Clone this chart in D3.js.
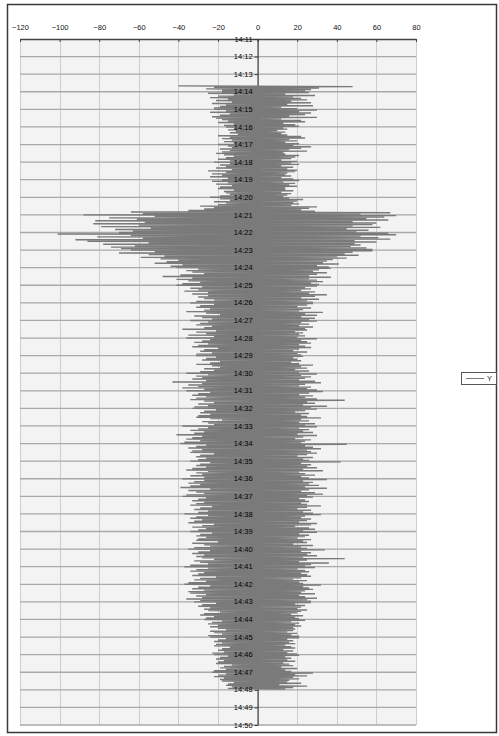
<!DOCTYPE html>
<html>
<head>
<meta charset="utf-8">
<script src="https://cdn.jsdelivr.net/npm/d3@7"></script>
<style>
  html, body { margin: 0; padding: 0; background: #ffffff; }
  svg { display: block; }
  text { font-family: "Liberation Sans", Arial, sans-serif; }
</style>
</head>
<body>
<svg id="chart" width="499" height="736"></svg>
<script>
// Amplitude axis (horizontal) tick values
const xTicks = [-120, -100, -80, -60, -40, -20, 0, 20, 40, 60, 80];

// Time axis (vertical) tick labels, one per minute
const timeTicks = ["14:11","14:12","14:13","14:14","14:15","14:16","14:17","14:18","14:19","14:20",
  "14:21","14:22","14:23","14:24","14:25","14:26","14:27","14:28","14:29","14:30",
  "14:31","14:32","14:33","14:34","14:35","14:36","14:37","14:38","14:39","14:40",
  "14:41","14:42","14:43","14:44","14:45","14:46","14:47","14:48","14:49","14:50"];

// Recording start and sample spacing of the Y series
const seriesName = "Y";
const startTime = "14:13:40";
const sampleSeconds = 2.5;

// Y readings, one per sample (one row per minute)
const yValues = [
  -40, 48, -22, 31, -26, 27, -18, 24,
  -18, 26, -25, 14, -12, 29, -20, 18, -24, 22, -15, 25, -21, 17, -13, 27, -23, 15, -16, 28, -19, 12, -22, 20,
  -22, 30, -16, 21, -24, 27, -14, 24, -19, 16, -23, 30, -21, 12, -18, 22, -15, 24, -20, 13, -12, 19, -17, 21,
  -16, 13, -12, 15, -15, 10, -11, 14, -14, 12, -10, 15, -20, 22, -14, 24, -18, 16, -13, 20, -17, 14, -12, 21,
  -20, 18, -15, 27, -13, 22, -19, 16, -14, 25, -18, 13, -21, 14, -17, 21, -12, 19, -16, 17, -20, 12, -14, 20,
  -22, 17, -14, 21, -19, 12, -16, 18, -21, 15, -13, 20, -25, 19, -16, 15, -23, 14, -18, 17, -24, 12, -15, 18,
  -18, 21, -23, 13, -15, 19, -21, 16, -13, 20, -19, 14, -20, 14, -12, 18, -17, 12, -16, 17, -14, 15, -19, 13,
  -24, 16, -19, 23, -14, 20, -22, 18, -16, 21, -20, 17, -29, 30, -22, 26, -27, 22, -35, 29, -64, 67, -58, 52,
  -88, 70, -52, 64, -75, 55, -61, 66, -82, 48, -57, 60, -83, 58, -60, 48, -79, 62, -54, 45, -72, 56, -63, 50,
  -70, 66, -101, 70, -64, 52, -81, 61, -58, 67, -92, 49, -86, 60, -55, 49, -78, 52, -62, 47, -74, 55, -69, 58,
  -64, 58, -52, 48, -70, 44, -55, 51, -47, 40, -59, 45, -49, 38, -40, 35, -46, 33, -52, 41, -38, 30, -44, 36,
  -41, 37, -30, 31, -36, 28, -33, 35, -27, 30, -39, 26, -48, 37, -33, 26, -41, 30, -35, 33, -29, 27, -38, 31,
  -41, 30, -28, 24, -34, 27, -30, 22, -37, 29, -25, 26, -33, 35, -25, 29, -30, 22, -27, 31, -22, 25, -31, 28,
  -34, 28, -22, 25, -29, 20, -31, 27, -24, 23, -27, 21, -36, 33, -26, 24, -19, 30, -32, 22, -28, 29, -23, 26,
  -34, 30, -25, 22, -29, 26, -31, 21, -23, 28, -27, 24, -38, 25, -21, 19, -31, 23, -26, 21, -35, 24, -22, 20,
  -36, 30, -24, 22, -28, 25, -32, 27, -25, 21, -30, 24, -33, 27, -20, 21, -27, 18, -29, 25, -23, 20, -31, 22,
  -31, 23, -21, 18, -26, 20, -28, 22, -19, 17, -24, 21, -31, 28, -23, 22, -19, 25, -27, 19, -22, 26, -29, 21,
  -36, 30, -25, 22, -31, 27, -28, 24, -33, 21, -26, 29, -43, 32, -28, 24, -35, 21, -30, 27, -38, 25, -27, 30,
  -36, 33, -24, 26, -30, 21, -33, 28, -26, 24, -31, 30, -34, 44, -27, 25, -22, 29, -30, 23, -25, 35, -32, 27,
  -33, 30, -21, 24, -27, 19, -29, 26, -24, 22, -30, 25, -31, 32, -24, 22, -18, 26, -28, 21, -25, 29, -22, 24,
  -38, 30, -25, 21, -30, 26, -34, 23, -27, 28, -32, 20, -41, 30, -28, 23, -33, 19, -36, 27, -29, 24, -37, 22,
  -39, 45, -26, 24, -31, 28, -35, 32, -28, 25, -33, 27, -34, 30, -22, 25, -29, 20, -31, 28, -26, 23, -30, 26,
  -34, 42, -24, 22, -29, 27, -31, 25, -26, 30, -33, 23, -36, 33, -25, 21, -31, 24, -28, 29, -34, 22, -27, 26,
  -38, 35, -27, 23, -32, 28, -35, 26, -29, 31, -34, 24, -39, 35, -24, 26, -35, 22, -31, 29, -27, 33, -36, 25,
  -38, 28, -26, 21, -30, 24, -33, 26, -27, 22, -31, 25, -34, 32, -23, 25, -29, 20, -32, 27, -25, 23, -30, 28,
  -37, 32, -25, 24, -31, 22, -34, 27, -28, 25, -32, 21, -35, 30, -22, 27, -28, 19, -33, 26, -26, 29, -30, 23,
  -34, 30, -23, 21, -29, 26, -31, 24, -26, 20, -30, 27, -31, 23, -20, 25, -33, 18, -27, 28, -24, 22, -32, 25,
  -35, 34, -24, 22, -30, 27, -33, 25, -27, 30, -31, 23, -28, 44, -22, 25, -32, 21, -29, 36, -25, 27, -34, 24,
  -37, 29, -25, 20, -31, 24, -34, 26, -27, 22, -30, 25, -33, 27, -21, 22, -29, 18, -32, 25, -26, 21, -35, 23,
  -37, 32, -24, 23, -30, 26, -33, 28, -27, 24, -35, 22, -34, 29, -26, 21, -31, 24, -28, 30, -36, 25, -29, 27,
  -32, 27, -21, 19, -28, 24, -30, 22, -24, 20, -27, 25, -25, 22, -19, 20, -27, 17, -29, 23, -22, 19, -26, 21,
  -27, 24, -18, 17, -23, 21, -25, 19, -20, 22, -24, 18, -20, 19, -16, 18, -24, 15, -22, 20, -18, 17, -25, 21,
  -24, 21, -16, 15, -20, 18, -22, 16, -18, 19, -21, 14, -22, 17, -14, 19, -18, 13, -20, 18, -17, 15, -23, 20,
  -22, 21, -15, 14, -19, 17, -21, 15, -17, 19, -20, 13, -21, 16, -13, 18, -17, 12, -19, 20, -16, 14, -22, 17,
  -23, 28, -16, 19, -20, 25, -22, 18, -17, 21, -19, 16, -18, 15, -12, 22, -15, 11, -16, 25, -13, 18, -15, 14
];

const svg = d3.select("#chart");
const W = 499, H = 736;

const plot = { left: 20, right: 416, top: 39, bottom: 725 };

const parseHM = d3.timeParse("%H:%M");
const parseHMS = d3.timeParse("%H:%M:%S");
const fmt = d3.timeFormat("%H:%M");
const tickDates = timeTicks.map(parseHM);
const t0 = parseHMS(startTime);

const data = yValues.map((v, i) => ({
  t: new Date(t0.getTime() + i * sampleSeconds * 1000),
  v
}));

const x = d3.scaleLinear().domain([xTicks[0], xTicks[xTicks.length - 1]]).range([plot.left, plot.right]);
const y = d3.scaleTime().domain([tickDates[0], tickDates[tickDates.length - 1]]).range([plot.top, plot.bottom]);

// outer frame
svg.append("rect")
  .attr("x", 7.5).attr("y", 4.5).attr("width", W - 10).attr("height", H - 8)
  .attr("fill", "#ffffff").attr("stroke", "#3a3a3a").attr("stroke-width", 1.5);

// plot background
svg.append("rect")
  .attr("x", plot.left).attr("y", plot.top)
  .attr("width", plot.right - plot.left).attr("height", plot.bottom - plot.top)
  .attr("fill", "#f3f3f3");

// vertical gridlines
svg.append("g").selectAll("line").data(xTicks.filter(d => d !== 0)).join("line")
  .attr("x1", d => Math.round(x(d)) + 0.5).attr("x2", d => Math.round(x(d)) + 0.5)
  .attr("y1", plot.top).attr("y2", plot.bottom)
  .attr("stroke", "#cdcdcd").attr("stroke-width", 1);

// horizontal gridlines, one per minute
svg.append("g").selectAll("line").data(tickDates.slice(1)).join("line")
  .attr("x1", plot.left).attr("x2", plot.right)
  .attr("y1", d => y(d)).attr("y2", d => y(d))
  .attr("stroke", "#a9a9a9").attr("stroke-width", 1.3);

// top amplitude axis
const xAxis = svg.append("g")
  .attr("transform", `translate(0,${plot.top})`)
  .call(d3.axisTop(x).tickValues(xTicks).tickSizeInner(-3).tickSizeOuter(0).tickPadding(9));
xAxis.select(".domain").attr("stroke", "#444").attr("stroke-width", 1.3);
xAxis.selectAll(".tick line").attr("stroke", "#444");
xAxis.selectAll(".tick text")
  .attr("font-size", 7.5).attr("fill", "#111")
  .attr("font-family", "Liberation Sans, Arial, sans-serif");

// vertical time axis line at zero
const yAxis = svg.append("g")
  .attr("transform", `translate(${x(0)},0)`)
  .call(d3.axisLeft(y).tickValues(tickDates).tickFormat(fmt).tickSizeInner(3).tickSizeOuter(0).tickPadding(2));
yAxis.select(".domain").attr("stroke", "#333").attr("stroke-width", 1.2);
yAxis.selectAll(".tick line").attr("stroke", "#333");
yAxis.selectAll(".tick text").remove();

// the Y trace
const line = d3.line().x(d => x(d.v)).y(d => y(d.t));
svg.append("path")
  .datum(data)
  .attr("d", line)
  .attr("fill", "none")
  .attr("stroke", "#7a7a7a")
  .attr("stroke-width", 1.4)
  .attr("stroke-linejoin", "bevel");

// time labels drawn above the trace
svg.append("g").selectAll("text").data(tickDates).join("text")
  .attr("x", x(0) - 5)
  .attr("y", d => y(d))
  .attr("dy", "0.35em")
  .attr("text-anchor", "end")
  .attr("font-size", 7.5)
  .attr("fill", "#000")
  .text(fmt);

// legend
const lg = svg.append("g").attr("transform", "translate(461,372)");
lg.append("rect").attr("x", 0.5).attr("y", 0.5).attr("width", 35).attr("height", 12)
  .attr("fill", "#ffffff").attr("stroke", "#555").attr("stroke-width", 1);
lg.append("line").attr("x1", 5).attr("x2", 23).attr("y1", 6.5).attr("y2", 6.5)
  .attr("stroke", "#7a7a7a").attr("stroke-width", 1);
lg.append("text").attr("x", 26).attr("y", 6.5).attr("dy", "0.35em")
  .attr("font-size", 7.5).attr("fill", "#222").text(seriesName);
</script>
</body>
</html>
